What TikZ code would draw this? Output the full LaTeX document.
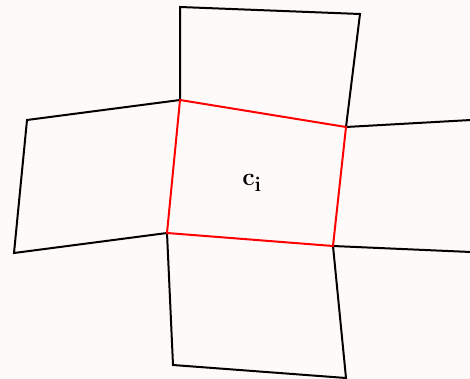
\documentclass[tikz,border=0pt]{standalone}
\definecolor{bg}{RGB}{255,250,250}
\begin{document}
\begin{tikzpicture}[x=1pt,y=-1pt,
  edge/.style={line width=2pt,line join=miter,black},
  cell/.style={line width=2pt,red,line join=miter}]
\fill[bg] (0,0) rectangle (470,379);
\useasboundingbox (0,0) rectangle (470,379);
\coordinate (A) at (180,100);
\coordinate (B) at (346,127);
\coordinate (C) at (333,246);
\coordinate (D) at (167,233);
\coordinate (T1) at (180,7);
\coordinate (T2) at (360,14);
\coordinate (L1) at (27,120);
\coordinate (L2) at (14,253);
\coordinate (R1) at (471,120);
\coordinate (R2) at (471,252);
\coordinate (B1) at (173,365);
\coordinate (B2) at (346,378);
\draw[edge] (A) -- (T1) -- (T2) -- (B);
\draw[edge] (A) -- (L1) -- (L2) -- (D);
\draw[edge] (B) -- (R1);
\draw[edge] (C) -- (R2);
\draw[edge] (D) -- (B1) -- (B2) -- (C);
\draw[cell] (A) -- (B) -- (C) -- (D) -- cycle;
\node (lbl) at (252,183) {\Huge$\mathbf{c_i}$};
\end{tikzpicture}
\end{document}
